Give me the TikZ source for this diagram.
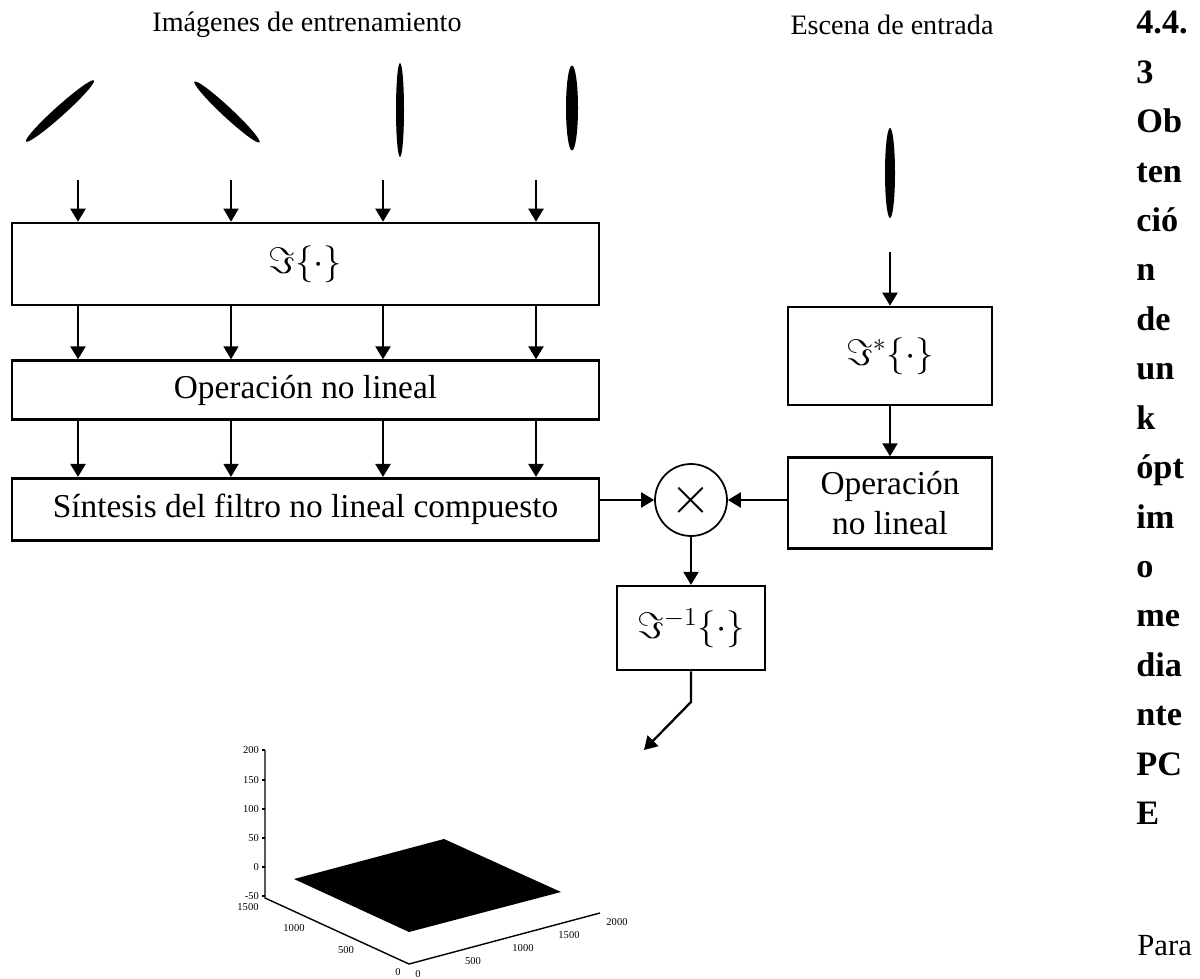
\RequirePackage{fix-cm}
\documentclass[tikz,border=0pt]{standalone}
\usepackage{fontspec}
\setmainfont{Liberation Serif}
\usetikzlibrary{positioning, shapes.geometric, arrows.meta}

\begin{document}
\begin{tikzpicture}[
      x=0.02cm, y=-0.02cm,
      node distance=1.1cm,
      block/.style={rectangle, draw, line width=1.5pt, inner sep=2pt,
      align=center, font=\fontsize{19}{23}\selectfont},
      wide/.style={block, minimum width=11.74cm},
      line/.style={draw, -{Triangle[width=0.3cm,length=0.26cm]},
      line width=1.3pt},
      blob/.style={ellipse, fill=black, inner sep=0pt},
      mult/.style={circle, draw, line width=1pt, minimum size=1.44cm,
      inner sep=0pt, font=\fontsize{30}{30}\selectfont},
      title/.style={font=\fontsize{16}{19}\selectfont},
      ticklbl/.style={font=\fontsize{6}{7}\selectfont, inner sep=1pt},
      heading/.style={font=\fontsize{19.5}{23}\selectfont\bfseries,
      anchor=base west, inner sep=0pt}
    ]
    \useasboundingbox (0,0) rectangle (1200,979);

    % titulos
    \node [title] (ttrain) at (307,25) {Imágenes de entrenamiento};
    \node [title] (tscene) at (892,25) {Escena de entrada};

    % imagenes
    \node [blob, minimum width=1.83cm, minimum height=0.2cm, rotate=42]
    (img1) at (60,111) {};
    \node [blob, minimum width=1.78cm, minimum height=0.2cm, rotate=-43]
    (img2) at (227,112) {};
    \node [blob, minimum width=0.16cm, minimum height=1.88cm] (img3) at (400,110) {};
    \node [blob, minimum width=0.24cm, minimum height=1.7cm] (img4) at (572,108) {};
    \node [blob, minimum width=0.2cm, minimum height=1.8cm] (scn) at (890,173) {};

    % bloques
    \node [wide, minimum height=1.64cm] (fbox) at (305.5,264)
    {\fontsize{21}{24}\selectfont$\Im\{\cdot\}$};
    \node [wide, minimum height=1.18cm, below=1.06cm of fbox] (nl1)
    {Operación no lineal};
    \node [wide, minimum height=1.24cm, below=1.12cm of nl1] (synth)
    {Síntesis del filtro no lineal compuesto};

    \node [block, minimum width=4.08cm, minimum height=1.96cm] (fstar) at (890,356)
    {\fontsize{21}{24}\selectfont$\Im^{*}\{\cdot\}$};
    \node [block, minimum width=4.08cm, minimum height=1.82cm,
    below=1.0cm of fstar] (nl2) {Operación\\no lineal};
    \node [mult] (mult) at (691,500) {$\times$};
    \node [block, minimum width=2.96cm, minimum height=1.68cm,
    below=0.96cm of mult] (finv) {\fontsize{21}{24}\selectfont$\Im^{-1}\{\cdot\}$};

    % flechas
    \foreach \x/\w in {78/1.4pt, 231/0.9pt, 383/1.4pt, 536/1.4pt} {
      \coordinate (src\x) at (\x,180);
      \path [line, line width=\w] (src\x) -- (src\x |- fbox.north);
      \path [line, line width=\w] (src\x |- fbox.south) -- (src\x |- nl1.north);
      \path [line, line width=\w] (src\x |- nl1.south) -- (src\x |- synth.north);
    }
    \coordinate (scnout) at (890,252);
    \path [line] (scnout) -- (fstar);
    \path [line] (fstar) -- (nl2);
    \path [line] (nl2.west |- mult) -- (mult);
    \path [line] (synth.east |- mult) -- (mult);
    \path [line] (mult) -- (finv);
    \coordinate (bend) at (691,702);
    \coordinate (outend) at (644,750);
    \path [line] (finv) -- (bend) -- (outend);

    % grafica 3D
    \draw [line width=0.8pt] (265,750) -- (265,898) -- (409,964) -- (600,913);
    \fill (294,879) -- (444,839) -- (561,892) -- (409,932) -- cycle;
    \foreach \v/\yy in {200/750, 150/780, 100/809, 50/838, 0/867, -50/896} {
      \draw [line width=0.6pt] (262,\yy) -- (265,\yy);
      \node [ticklbl, anchor=east] (za\yy) at (261,\yy) {\v};
    }
    \foreach \v/\xx/\yy in {1500/248/907, 1000/294/928, 500/346/950, 0/398/972}
      \node [ticklbl] (ya\xx) at (\xx,\yy) {\v};
    \foreach \v/\xx/\yy in {0/418/974, 500/473/961, 1000/523/948, 1500/569/935, 2000/617/922}
      \node [ticklbl] (xa\xx) at (\xx,\yy) {\v};

    % texto lateral
    \foreach \t [count=\i] in {4.4.,3,Ob,ten,ció,n,de,un,k,ópt,im,o,me,dia,nte,PC,E}
      \node [heading] (h\i) at (1136,{34+(\i-1)*49.4}) {\t};
    \node [font=\fontsize{17.5}{21}\selectfont, anchor=base west, inner sep=0pt]
    (para) at (1137,955) {Para};
  \end{tikzpicture}
\end{document}
